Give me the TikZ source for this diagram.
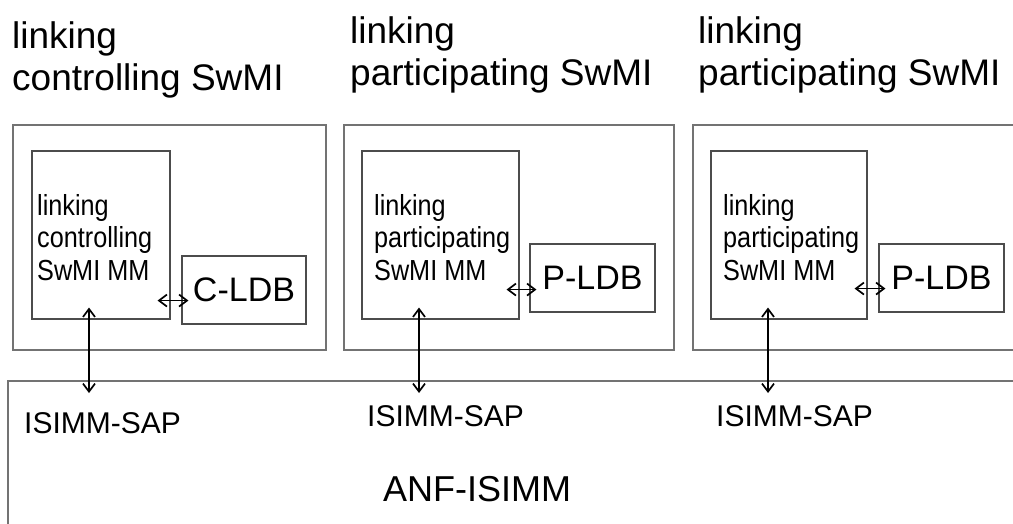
\documentclass[tikz,border=0pt]{standalone}
\usepackage{fontspec}
\setmainfont{Liberation Sans}
\newfontfamily\mmfont{Liberation Sans}[FakeStretch=0.87]
\usetikzlibrary{arrows.meta}

\begin{document}
\begin{tikzpicture}[x=1pt,y=-1pt,
  outerbox/.style={draw=black!55,line width=1.3pt,minimum height=225pt,inner sep=0pt},
  mmbox/.style={draw=black!70,line width=1.1pt,minimum height=168pt,inner sep=0pt},
  ldbbox/.style={draw=black!70,line width=1.1pt,minimum width=125pt,minimum height=68pt,inner sep=0pt,font=\fontsize{34}{40}\selectfont},
  title/.style={anchor=north west,inner sep=0pt,align=left,font=\fontsize{37}{42}\selectfont},
  mmlabel/.style={anchor=north west,inner sep=0pt,align=left,font=\mmfont\fontsize{29}{32.5}\selectfont},
  sap/.style={anchor=base west,inner sep=0pt,font=\fontsize{30}{36}\selectfont},
  link/.style={{Straight Barb[length=8pt,width=12pt,line width=1.7pt]}-{Straight Barb[length=8pt,width=12pt,line width=1.7pt]},line width=1.2pt}]
  \useasboundingbox (0,0) rectangle (1013,524);
  \clip (0,0) rectangle (1013,524);

  % SwMI titles
  \node[title] (t1) at (12,21) {linking\\controlling SwMI};
  \node[title] (t2) at (350,16) {linking\\participating SwMI};
  \node[title] (t3) at (698,16) {linking\\participating SwMI};

  % SwMI boxes
  \node[outerbox,minimum width=313pt] (swmi1) at (169.5,237.5) {};
  \node[outerbox,minimum width=330pt] (swmi2) at (509,237.5) {};
  \node[outerbox,minimum width=337pt] (swmi3) at (861.5,237.5) {};

  % mobility management
  \node[mmbox,minimum width=138pt] (mm1) at (101,235) {};
  \node[mmbox,minimum width=157pt] (mm2) at (440.5,235) {};
  \node[mmbox,minimum width=156pt] (mm3) at (789,235) {};
  \node[mmlabel] (mm1lbl) at (37,194) {linking\\controlling\\SwMI MM};
  \node[mmlabel] (mm2lbl) at (374,194) {linking\\participating\\SwMI MM};
  \node[mmlabel] (mm3lbl) at (723,194) {linking\\participating\\SwMI MM};

  % local databases
  \node[ldbbox,minimum width=124pt] (cldb) at (244,290) {C-LDB};
  \node[ldbbox] (pldb2) at (592.5,278) {P-LDB};
  \node[ldbbox] (pldb3) at (941.5,278) {P-LDB};

  % ANF
  \node[draw=black!55,line width=1.3pt,minimum width=1022pt,minimum height=159pt,inner sep=0pt] (anf) at (519,460.5) {};
  \node[inner sep=0pt,anchor=base west,font=\fontsize{36}{42}\selectfont] (anflbl) at (383,501) {ANF-ISIMM};
  \node[sap] (sap1lbl) at (24,433) {ISIMM-SAP};
  \node[sap] (sap2lbl) at (367,426) {ISIMM-SAP};
  \node[sap] (sap3lbl) at (716,426) {ISIMM-SAP};

  \coordinate (sap1) at (89,381);
  \coordinate (sap2) at (419,381);
  \coordinate (sap3) at (768,381);

  \foreach \m/\s in {mm1/sap1,mm2/sap2,mm3/sap3}
    \draw[link,shorten <=-12pt,shorten >=-12pt] (\s |- \m.south) -- (\s);

  \foreach \m/\d/\a/\b in {mm1/cldb/19/24,mm2/pldb2/30/23,mm3/pldb3/31/24}
    \draw[link,shorten <=-13pt,shorten >=-7pt] ([yshift=\a pt]\m.south east) -- ([yshift=\b pt]\d.south west);
\end{tikzpicture}
\end{document}
